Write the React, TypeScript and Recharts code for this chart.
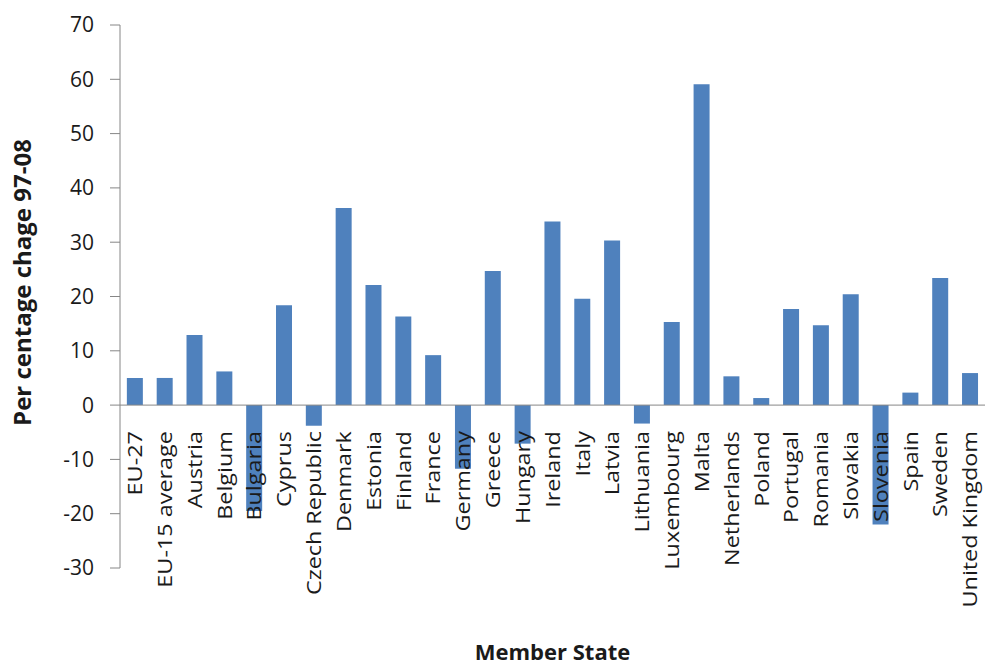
import { BarChart, Bar, XAxis, YAxis, ReferenceLine, Label } from 'recharts';

const states = [
  'EU-27', 'EU-15 average', 'Austria', 'Belgium', 'Bulgaria', 'Cyprus', 'Czech Republic',
  'Denmark', 'Estonia', 'Finland', 'France', 'Germany', 'Greece', 'Hungary', 'Ireland',
  'Italy', 'Latvia', 'Lithuania', 'Luxembourg', 'Malta', 'Netherlands', 'Poland',
  'Portugal', 'Romania', 'Slovakia', 'Slovenia', 'Spain', 'Sweden', 'United Kingdom',
];
const change = [
  5.0, 5.0, 12.9, 6.2, -19.5, 18.4, -3.8,
  36.3, 22.1, 16.3, 9.2, -11.7, 24.7, -7.1, 33.8,
  19.6, 30.3, -3.4, 15.3, 59.1, 5.3, 1.3,
  17.7, 14.7, 20.4, -22.0, 2.3, 23.4, 5.9,
];
const yTicks = [-30, -20, -10, 0, 10, 20, 30, 40, 50, 60, 70];

const data = states.map((name, i) => ({ name, value: change[i] }));

const W = 988;
const H = 668;
const TOP = 25;
const X_AXIS_H = 100;
const PLOT_H = H - TOP - X_AXIS_H;
const ZERO_Y = TOP + PLOT_H * (70 / 100);

const FONT = "'Open Sans', sans-serif";
const TEXT = '#1a1a1a';
const AXIS = '#868686';

function StateTick({ x, payload }: any) {
  return (
    <g transform={`translate(${x},${ZERO_Y + 26}) rotate(-90) scale(1.17,1)`}>
      <text textAnchor="end" dy="0.36em" fill={TEXT} fontSize={20} fontFamily={FONT}>
        {payload.value}
      </text>
    </g>
  );
}

export default function App() {
  return (
    <div style={{ position: 'absolute', left: 0, top: 0, width: W, height: H, background: '#fff' }}>
      <BarChart width={W} height={H} data={data} margin={{ top: TOP, right: 3, bottom: 0, left: 0 }} barCategoryGap="23%">
        <XAxis
          dataKey="name"
          interval={0}
          axisLine={false}
          tickLine={false}
          height={X_AXIS_H}
          tick={<StateTick />}
        >
          <Label value="Member State" position="insideBottom" offset={8} fill={TEXT} fontSize={22} fontWeight={700} fontFamily={FONT} />
        </XAxis>
        <YAxis
          domain={[-30, 70]}
          ticks={yTicks}
          interval={0}
          width={120}
          axisLine={{ stroke: AXIS }}
          tickLine={{ stroke: AXIS }}
          tickSize={10}
          tickMargin={16}
          tick={{ fill: TEXT, fontSize: 21, fontFamily: FONT }}
        >
          <Label value="Per centage chage 97-08" angle={-90} position="insideLeft" dx={17} dy={-14} style={{ textAnchor: 'middle' }} fill={TEXT} fontSize={24} fontWeight={700} fontFamily={FONT} />
        </YAxis>
        <ReferenceLine y={0} stroke={AXIS} strokeWidth={1} />
        <Bar dataKey="value" fill="#4F81BD" isAnimationActive={false} />
      </BarChart>
    </div>
  );
}
